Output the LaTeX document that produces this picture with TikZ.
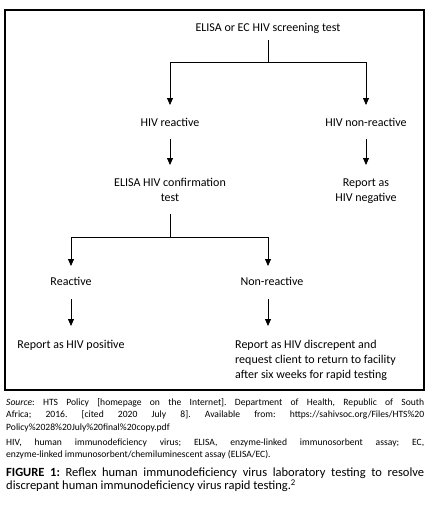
\documentclass[tikz,border=0pt]{standalone}
\usepackage{fontspec}
\setmainfont{Carlito}
\usetikzlibrary{arrows.meta}
\begin{document}
\begin{tikzpicture}[x=1pt,y=-1pt,
  txt/.style={inner sep=0pt,font=\fontsize{12}{15}\selectfont,anchor=base},
  ml/.style={txt,align=center},
  line/.style={line width=0.8pt,black},
  arr/.style={line,-{Triangle[length=7pt,width=6pt]}},
  frame/.style={line width=1.1pt,black}]
\useasboundingbox (0,0) rectangle (437,506);
\draw[frame] (5,10) rectangle (424,390);
% nodes (base = baseline of last line)
\node[txt] (screen) at (268,31) {ELISA or EC HIV screening test};
\node[txt] (react) at (170,126) {HIV reactive};
\node[txt] (nonreact) at (366,126) {HIV non-reactive};
\node[ml] (confirm) at (170,201) {ELISA HIV confirmation\\test};
\node[ml] (neg) at (366,201) {Report as\\HIV negative};
\node[txt] (r2) at (71,285) {Reactive};
\node[txt] (nr2) at (272,285) {Non-reactive};
\node[txt] (pos) at (71,348) {Report as HIV positive};
\node[txt,align=left,anchor=base west] (disc) at (235,378) {Report as HIV discrepent and\\request client to return to facility\\after six weeks for rapid testing};
% junctions
\coordinate (j1) at (268,62);
\coordinate (j2) at (170,237);
% connectors
\draw[line] ([yshift=-9pt]screen.base) -- (j1);
\draw[arr] (j1) -| ([yshift=21pt]react.base);
\draw[arr] (j1) -| ([yshift=21pt]nonreact.base);
\draw[arr] ([yshift=-13pt]react.base) -- ([yshift=36pt]confirm.base);
\draw[arr] ([yshift=-13pt]nonreact.base) -- ([yshift=36pt]neg.base);
\draw[line] ([yshift=-13pt]confirm.base) -- (j2);
\draw[arr] (j2) -| ([yshift=19pt]r2.base);
\draw[arr] (j2) -| ([xshift=-4pt,yshift=19pt]nr2.base);
\draw[arr] ([yshift=-14pt]r2.base) -- ([yshift=22pt]pos.base);
\draw[arr] ([xshift=-4pt,yshift=-14pt]nr2.base) -- ([xshift=33pt,yshift=52pt]disc.base west);
% source
\node[inner sep=0pt,anchor=north west,text width=418pt,align=justify,
  font=\fontsize{9.6}{12.5}\selectfont] (src) at (6,398)
 {\hyphenpenalty=10000\exhyphenpenalty=10000\frenchspacing
 \emph{Source}: HTS Policy [homepage on the Internet]. Department of Health, Republic of South\linebreak Africa; 2016. [cited 2020 July 8]. Available from: https://sahivsoc.org/Files/HTS\%20\linebreak Policy\%2028\%20July\%20final\%20copy.pdf\par\vspace{2.5pt}
 HIV, human immunodeficiency virus; ELISA, enzyme-linked immunosorbent assay; EC,\linebreak enzyme-linked immunosorbent/chemiluminescent assay (ELISA/EC).\par\vspace{6pt}
 {\fontsize{12.5}{13}\selectfont\textbf{FIGURE 1:} Reflex human immunodeficiency virus laboratory testing to resolve discrepant human immunodeficiency virus rapid testing.\textsuperscript{2}\par}};
\end{tikzpicture}
\end{document}
